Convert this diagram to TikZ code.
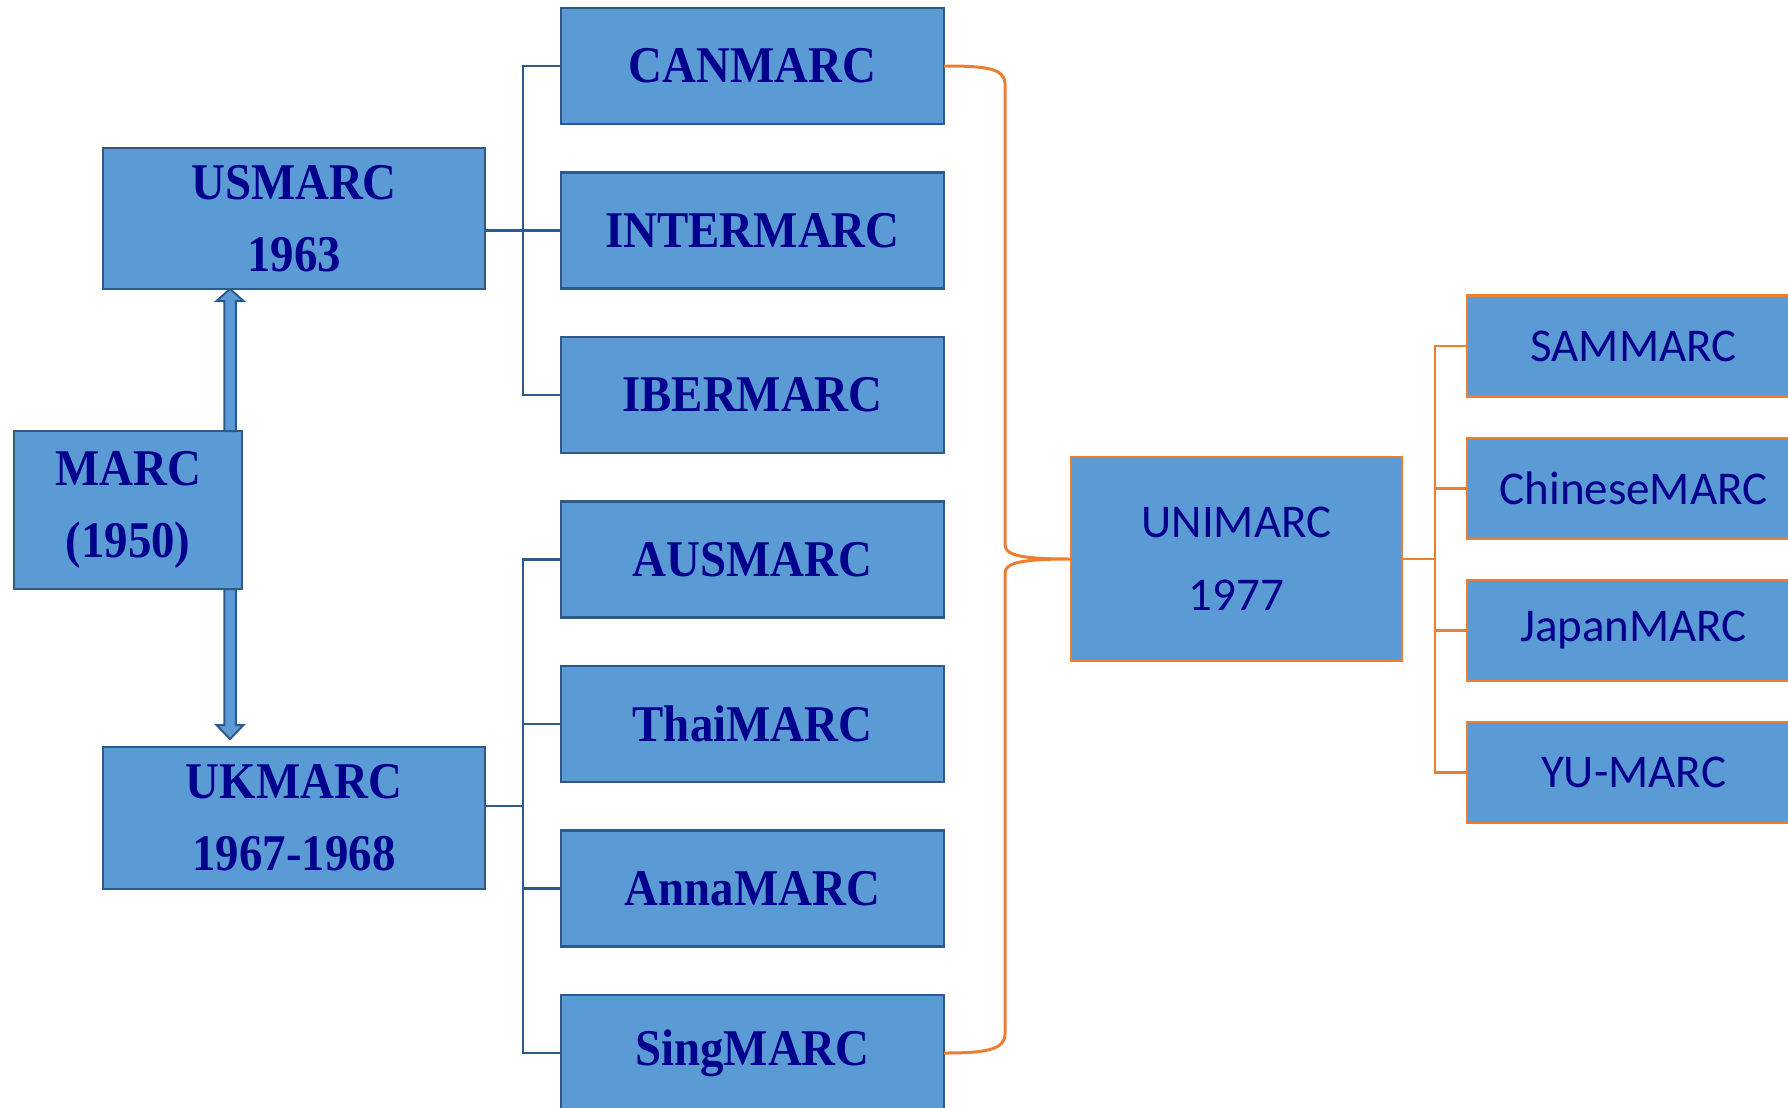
\documentclass[tikz,border=0pt]{standalone}
\usepackage{fontspec}
\usetikzlibrary{calc}
\newfontfamily\tnrfont[FakeStretch=0.91]{Liberation Serif}
\newfontfamily\calfont{Carlito}
\definecolor{boxblue}{HTML}{5B9BD5}
\definecolor{edgeblue}{HTML}{2E5A87}
\definecolor{txtblue}{RGB}{0,0,140}
\definecolor{orng}{HTML}{ED7D31}
\begin{document}
\begin{tikzpicture}[x=0.5pt,y=-0.5pt,
  lbox/.style={draw=edgeblue, line width=1.25pt, fill=boxblue, text=txtblue,
    inner sep=0pt, outer sep=0pt, align=center,
    font=\tnrfont\bfseries\fontsize{25.75}{36}\selectfont},
  mbox/.style={lbox, minimum width=191.5pt, minimum height=58pt},
  obox/.style={draw=orng, line width=1.35pt, fill=boxblue, text=txtblue,
    inner sep=0pt, outer sep=0pt, align=center,
    font=\calfont\fontsize{23.5}{36.5}\selectfont},
  rbox/.style={obox, minimum width=166.5pt, minimum height=50.5pt},
  bline/.style={draw=edgeblue, line width=1.2pt},
  oline/.style={draw=orng, line width=1.3pt},
  bracel/.style={draw=orng, line width=1.5pt},
  arrbody/.style={draw=edgeblue, line width=1pt, fill=boxblue, line join=miter}
]
\useasboundingbox (0,0) rectangle (1788,1108);
\clip (0,0) rectangle (1788,1108);
\fill[white] (0,0) rectangle (1788,1108);

% left column
\node[lbox, minimum width=114pt, minimum height=79pt] (MARC) at (128,510) {MARC\\(1950)};
\node[lbox, minimum width=191pt, minimum height=70.5pt] (US) at (294,218.5) {USMARC\\1963};
\node[lbox, minimum width=191pt, minimum height=71pt] (UK) at (294,818) {UKMARC\\1967-1968};

% middle column
\node[mbox] (CAN)   at (752.5,66)     {CANMARC};
\node[mbox] (INTER) at (752.5,230.5)  {INTERMARC};
\node[mbox] (IBER)  at (752.5,395)    {IBERMARC};
\node[mbox] (AUS)   at (752.5,559.5)  {AUSMARC};
\node[mbox] (THAI)  at (752.5,724)    {ThaiMARC};
\node[mbox] (ANNA)  at (752.5,888.5)  {AnnaMARC};
\node[mbox] (SING)  at (752.5,1053)   {SingMARC};

% UNIMARC and right column
\node[obox, minimum width=165.5pt, minimum height=102pt] (UNI) at (1236.5,559) {UNIMARC\\1977};
\node[rbox] (SAM) at (1633.5,346)   {SAMMARC};
\node[rbox] (CHN) at (1633.5,488.5) {ChineseMARC};
\node[rbox] (JPN) at (1633.5,630.5) {JapanMARC};
\node[rbox] (YU)  at (1633.5,772.5) {YU-MARC};

% blue tree connectors
\draw[bline] (CAN.west) -- ++(-38,0) |- (IBER.west);
\draw[bline] (US.east |- INTER.west) -- (INTER.west);
\draw[bline] (AUS.west) -- ++(-38,0) |- (SING.west);
\coordinate (lt) at ($(AUS.west)!0.5!(SING.west)$);
\draw[bline] (UK.east |- lt) -- ($(lt)+(-38,0)$);
\draw[bline] (THAI.west) -- ++(-38,0);
\draw[bline] (ANNA.west) -- ++(-38,0);

% orange tree connectors
\coordinate (tr) at ($(SAM.west)+(-32,0)$);
\draw[oline] (SAM.west) -- (tr) |- (YU.west);
\draw[oline] (CHN.west) -- ++(-32,0);
\draw[oline] (JPN.west) -- ++(-32,0);
\draw[oline] (UNI.east) -- (UNI.east -| tr);

% orange brace
\draw[bracel] (CAN.east) .. controls (985,66) and (1005,68) .. (1005,84)
  -- (1005,545) .. controls (1005,556) and (1025,559) .. (UNI.west)
  .. controls (1025,559) and (1005,562) .. (1005,573)
  -- (1005,1034) .. controls (1005,1050) and (985,1053) .. (SING.east);

% hollow block arrows
\coordinate (ab) at ($(MARC.north east)+(-12,0)$);
\coordinate (at) at (ab |- US.south);
\draw[arrbody] ($(ab)+(-5.75,0)$) -- ($(at)+(-5.75,12)$) -- ($(at)+(-13.5,12)$)
  -- (at) -- ($(at)+(13.5,12)$) -- ($(at)+(5.75,12)$) -- ($(ab)+(5.75,0)$) -- cycle;
\coordinate (db) at ($(MARC.south east)+(-12,0)$);
\coordinate (dt) at ($(db |- UK.north)+(0,-8)$);
\draw[arrbody] ($(db)+(-5.75,0)$) -- ($(dt)+(-5.75,-14)$) -- ($(dt)+(-13.5,-14)$)
  -- (dt) -- ($(dt)+(13.5,-14)$) -- ($(dt)+(5.75,-14)$) -- ($(db)+(5.75,0)$) -- cycle;
\end{tikzpicture}
\end{document}
